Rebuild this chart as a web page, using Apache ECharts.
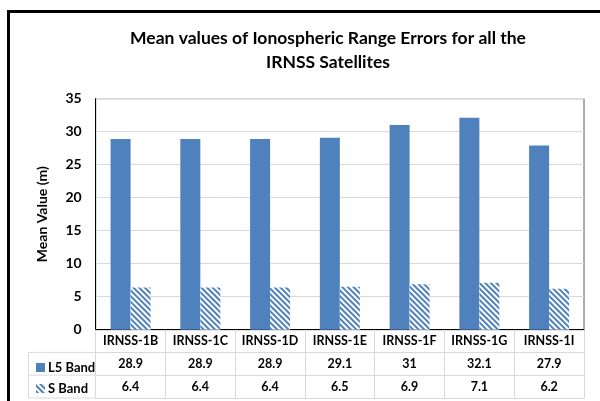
<!DOCTYPE html>
<html>
<head>
<meta charset="utf-8">
<script src="https://cdn.jsdelivr.net/npm/echarts@6/dist/echarts.min.js"></script>
<style>
  html, body { margin: 0; padding: 0; background: #fff; }
  #main { width: 600px; height: 401px; }
</style>
</head>
<body>
<div id="main"></div>
<script>
var myChart = echarts.init(document.getElementById('main'));

var satellites = ['IRNSS-1B', 'IRNSS-1C', 'IRNSS-1D', 'IRNSS-1E', 'IRNSS-1F', 'IRNSS-1G', 'IRNSS-1I'];
var l5Band = [28.9, 28.9, 28.9, 29.1, 31, 32.1, 27.9];
var sBand = [6.4, 6.4, 6.4, 6.5, 6.9, 7.1, 6.2];
var seriesNames = ['L5 Band', 'S Band'];

var font = 'Lato';
var blue = '#4F81BD';
var tableLine = '#D9D9D9';
var rowH = 22.7;

var hatch = {
    color: blue,
    symbol: 'rect',
    symbolSize: 1,
    dashArrayX: [1, 0],
    dashArrayY: [1.5, 1.5],
    rotation: Math.PI / 4
};

var cellLabel = {
    interval: 0,
    margin: 5,
    color: '#000',
    fontFamily: font,
    fontWeight: 'bold',
    fontSize: 12.5
};

function tableAxis(data, offset, showTick) {
    return {
        type: 'category',
        gridIndex: 0,
        position: 'bottom',
        offset: offset,
        data: data,
        axisLine: { show: true, lineStyle: { color: tableLine } },
        axisTick: { show: showTick, interval: 0, length: rowH, lineStyle: { color: tableLine } },
        axisLabel: Object.assign({ show: showTick }, cellLabel)
    };
}

var option = {
    animation: false,
    title: {
        text: 'Mean values of Ionospheric Range Errors for all the\nIRNSS Satellites',
        left: 323,
        top: 21,
        textAlign: 'center',
        textStyle: {
            fontFamily: font,
            fontWeight: 'bold',
            fontSize: 17.5,
            lineHeight: 24,
            color: '#000'
        }
    },
    legend: {
        data: seriesNames,
        orient: 'vertical',
        left: 31,
        top: 356,
        icon: 'rect',
        itemWidth: 9,
        itemHeight: 9,
        itemGap: 8,
        textStyle: {
            fontFamily: font,
            fontWeight: 'bold',
            fontSize: 13,
            color: '#000',
            padding: [0, 0, 0, -2]
        }
    },
    grid: {
        left: 95.7,
        right: 16,
        top: 98.7,
        bottom: 71.3,
        show: true,
        borderColor: '#595959',
        borderWidth: 1
    },
    xAxis: [
        {
            type: 'category',
            data: satellites,
            axisLine: { show: true, lineStyle: { color: '#000' } },
            axisTick: { show: true, interval: 0, length: rowH, lineStyle: { color: tableLine } },
            axisLabel: cellLabel
        },
        tableAxis(l5Band.map(String), rowH, true),
        tableAxis(sBand.map(String), rowH * 2, true),
        tableAxis(satellites, rowH * 3, false)
    ],
    yAxis: {
        type: 'value',
        min: 0,
        max: 35,
        interval: 5,
        name: 'Mean Value (m)',
        nameLocation: 'middle',
        nameGap: 46,
        nameTextStyle: {
            fontFamily: font,
            fontWeight: 'bold',
            fontSize: 14,
            color: '#000'
        },
        axisLine: { show: true, lineStyle: { color: '#000' } },
        axisTick: { show: false },
        axisLabel: {
            margin: 14,
            color: '#000',
            fontFamily: font,
            fontWeight: 'bold',
            fontSize: 14
        },
        splitLine: { lineStyle: { color: tableLine } }
    },
    graphic: [
        {
            type: 'rect',
            shape: { x: 8.5, y: 11.5, width: 700, height: 500 },
            style: { fill: null, stroke: '#000', lineWidth: 3 },
            silent: true
        },
        {
            type: 'polyline',
            shape: { points: [[95.7, 352.4], [28.5, 352.4], [28.5, 398], [95.7, 398]] },
            style: { fill: null, stroke: tableLine, lineWidth: 1 },
            silent: true
        },
        {
            type: 'line',
            shape: { x1: 28.5, y1: 375.1, x2: 95.7, y2: 375.1 },
            style: { stroke: tableLine, lineWidth: 1 },
            silent: true
        }
    ],
    series: [
        {
            name: seriesNames[0],
            type: 'bar',
            data: l5Band,
            barWidth: 20,
            barGap: '0%',
            itemStyle: { color: blue }
        },
        {
            name: seriesNames[1],
            type: 'bar',
            data: sBand,
            barWidth: 20,
            barGap: '0%',
            itemStyle: { color: '#fff', decal: hatch }
        }
    ]
};

myChart.setOption(option);
</script>
</body>
</html>
